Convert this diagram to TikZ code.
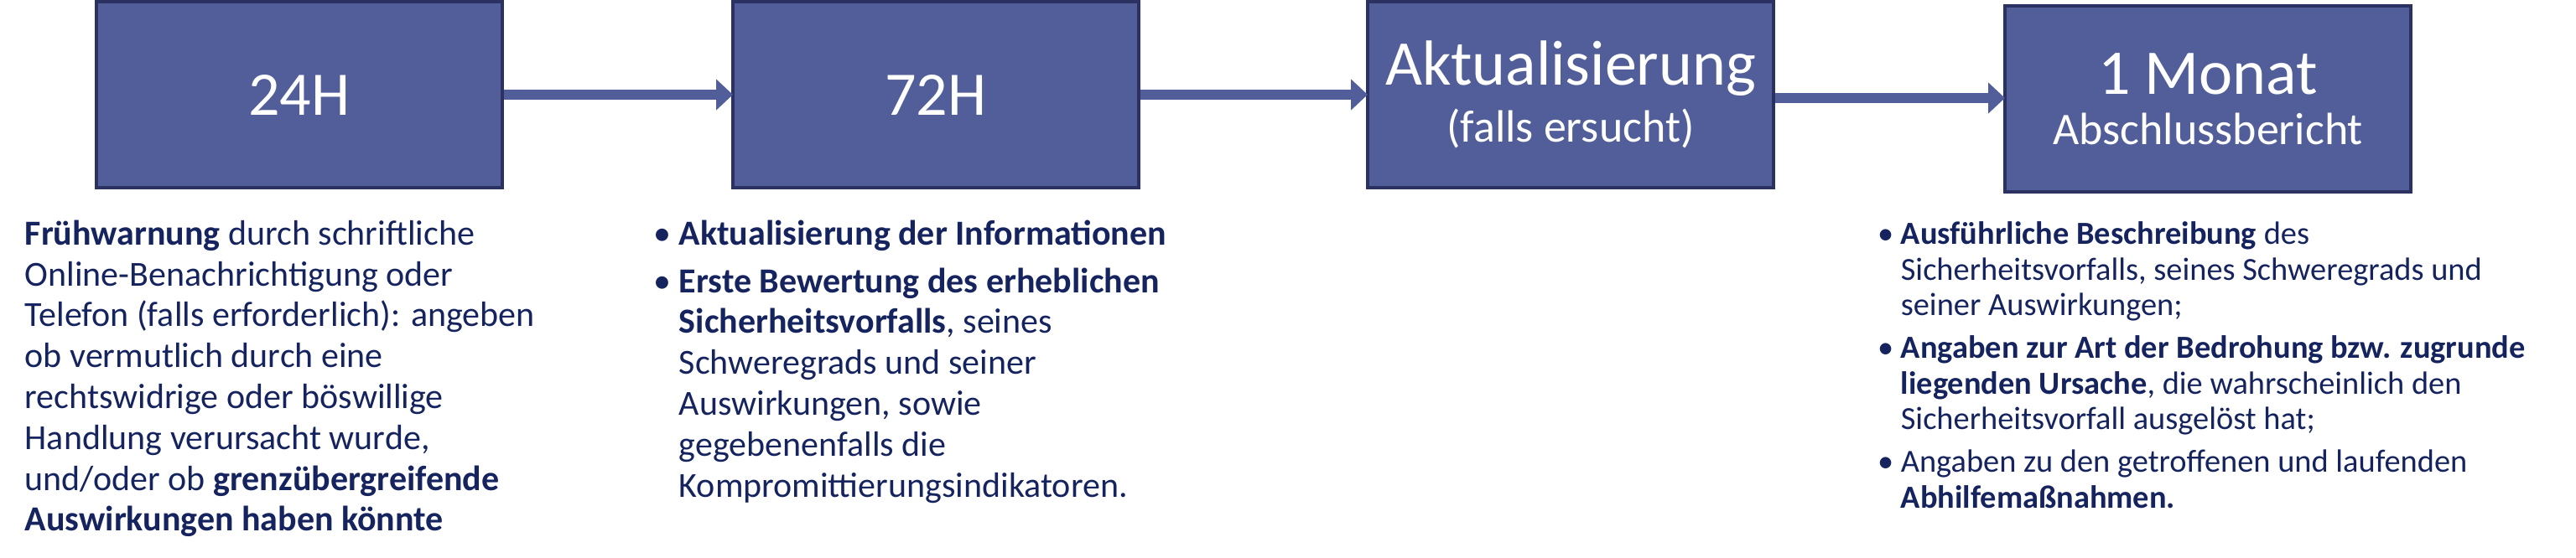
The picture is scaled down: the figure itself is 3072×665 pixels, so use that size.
\documentclass[tikz,border=0pt]{standalone}
\usepackage{fontspec}
\usetikzlibrary{arrows.meta}
\setmainfont{Carlito}
\definecolor{boxfill}{HTML}{525E99}
\definecolor{boxline}{HTML}{2B3160}
\definecolor{navy}{HTML}{15235E}
\begin{document}
\begin{tikzpicture}[x=0.25pt,y=-0.25pt,
  stage/.style={draw=boxline,line width=1pt,fill=boxfill,minimum width=121pt,minimum height=55.5pt,inner sep=0pt,text=white,align=center,anchor=north west},
  conn/.style={draw=boxfill,line width=3pt,-{Triangle[width=9pt,length=5pt]},shorten >=-0.5pt},
  body/.style={anchor=north west,inner sep=0pt,align=left,text=navy,font=\fontsize{10.5}{12.2}\selectfont},
  bodyr/.style={anchor=north west,inner sep=0pt,align=left,text=navy,font=\fontsize{9.6}{10.6}\selectfont}]
\useasboundingbox (0,0) rectangle (3072,665);
\node[stage] (a) at (113,0) {\fontsize{18.5}{20}\selectfont 24H};
\node[stage] (b) at (872,0) {\fontsize{18.5}{20}\selectfont 72H};
\node[stage] (c) at (1629,0) {\fontsize{19}{21}\selectfont Aktualisierung\\[3pt]\fontsize{13.5}{15}\selectfont (falls ersucht)};
\node[stage] (d) at (2389,5) {\fontsize{19}{21}\selectfont 1 Monat\\[3pt]\fontsize{13.5}{15}\selectfont Abschlussbericht};
\draw[conn] (a.east) -- (b.west);
\draw[conn] (b.east) -- (c.west);
\draw[conn] ([yshift=-1pt]c.east) -- ([yshift=-1pt]c.east -| d.west);
\node[body] (t1) at (29,262) {\textbf{Frühwarnung} durch schriftliche\\Online-Benachrichtigung oder\\Telefon (falls erforderlich): angeben\\ob vermutlich durch eine\\rechtswidrige oder böswillige\\Handlung verursacht wurde,\\und/oder ob \textbf{grenzübergreifende}\\\textbf{Auswirkungen haben könnte}};
\node[body] (t2) at (809,262) {\llap{\textbullet\ }\textbf{Aktualisierung der Informationen}\\[2pt]\llap{\textbullet\ }\textbf{Erste Bewertung des erheblichen}\\\textbf{Sicherheitsvorfalls}, seines\\Schweregrads und seiner\\Auswirkungen, sowie\\gegebenenfalls die\\Kompromittierungsindikatoren.};
\node[bodyr] (t3) at (2266,264) {\llap{\textbullet\ }\textbf{Ausführliche Beschreibung} des\\Sicherheitsvorfalls, seines Schweregrads und\\seiner Auswirkungen;\\[2.2pt]\llap{\textbullet\ }\textbf{Angaben zur Art der Bedrohung bzw. zugrunde}\\\textbf{liegenden Ursache}, die wahrscheinlich den\\Sicherheitsvorfall ausgelöst hat;\\[2.2pt]\llap{\textbullet\ }Angaben zu den getroffenen und laufenden\\\textbf{Abhilfemaßnahmen.}};
\end{tikzpicture}
\end{document}
